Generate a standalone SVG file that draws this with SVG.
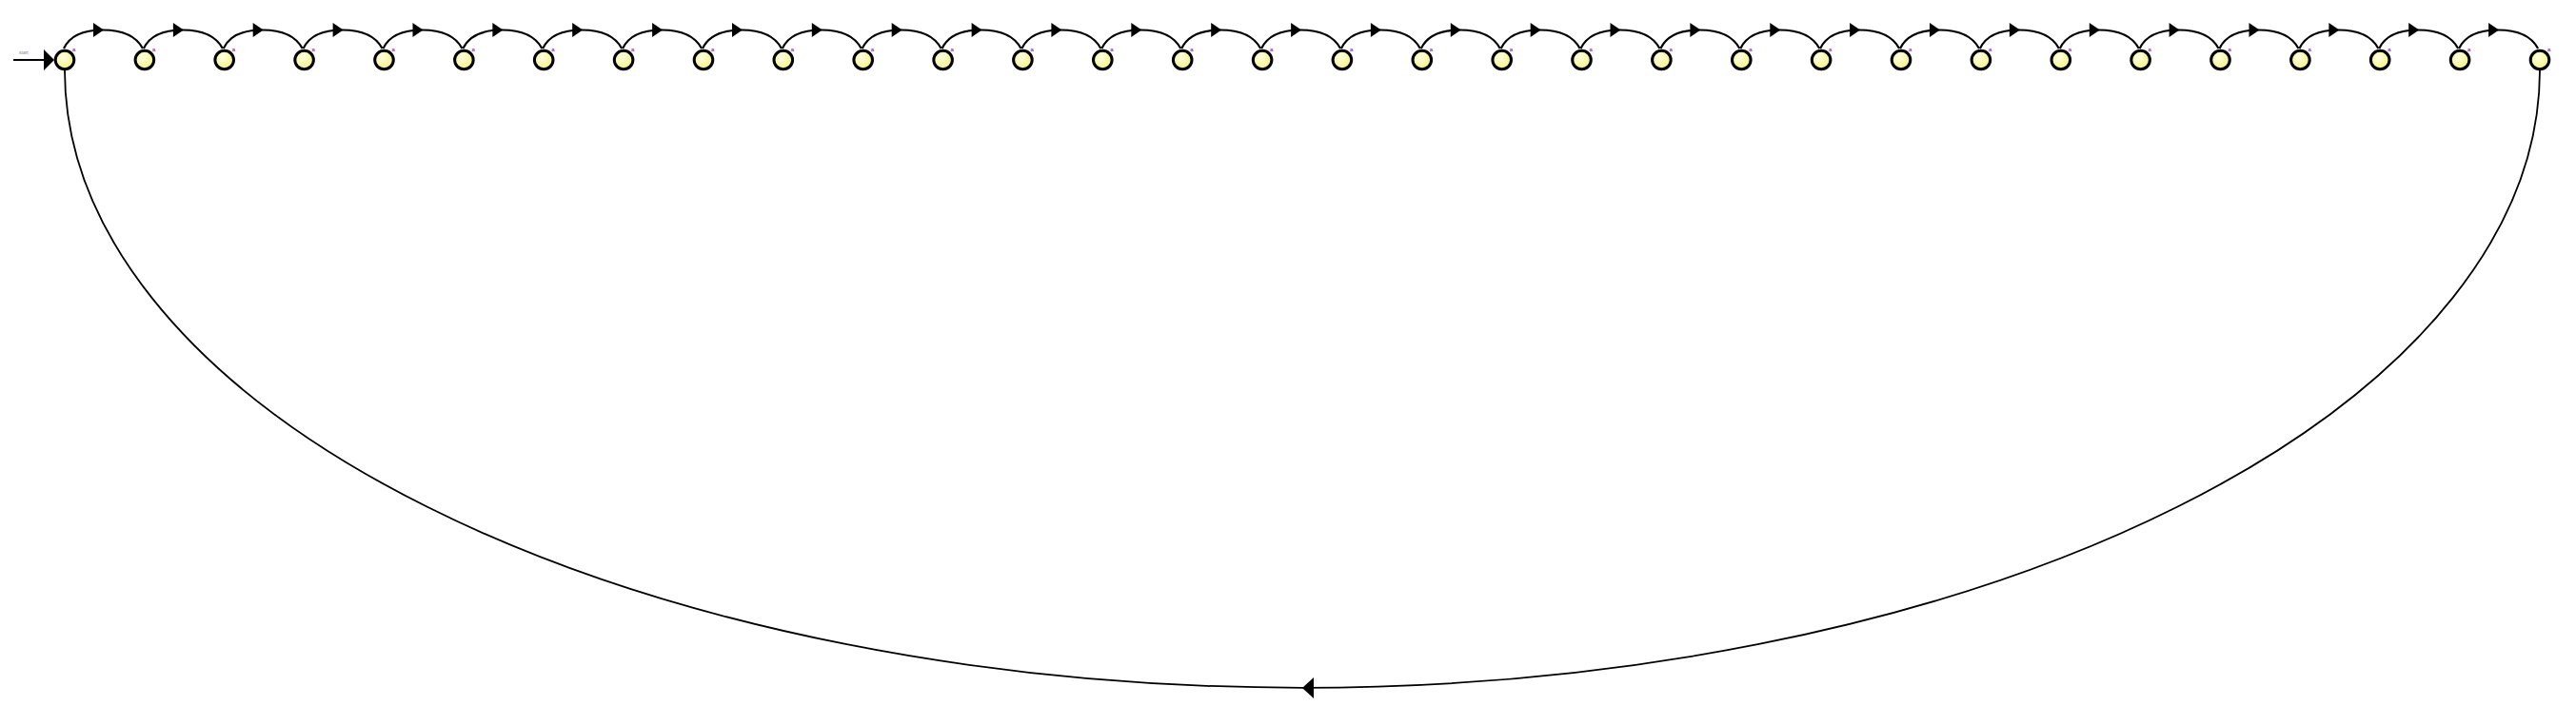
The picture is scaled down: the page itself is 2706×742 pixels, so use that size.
<svg xmlns="http://www.w3.org/2000/svg" xmlns:xlink="http://www.w3.org/1999/xlink" width="2706" height="742" viewBox="0 0 2706 742">
<style>
.st{fill:url(#g);stroke:#000;stroke-width:3}
.arc{fill:none;stroke:#000;stroke-width:2.2}
.loop{fill:none;stroke:#000;stroke-width:1.8}
.ah{fill:#000;stroke:none}
.lbl{font-family:"Liberation Sans",Arial,sans-serif;font-size:6px;font-weight:bold;fill:#a030c8}
.sl{font-family:"Liberation Sans",Arial,sans-serif;font-size:5px;fill:#9080a0}
</style>
<defs>
<radialGradient id="g" cx="0.4" cy="0.35" r="0.7">
<stop offset="0" stop-color="#ffffe6"/>
<stop offset="1" stop-color="#f2f27a"/>
</radialGradient>
<g id="a">
<path class="arc" d="M -1 -12 C 6 -27, 21 -31.5, 40 -31.5 C 59 -31.5, 74 -27, 82 -12"/>
<polygon class="ah" points="30,-39 41,-31.5 30,-24"/>
</g>
</defs>
<g id="connectors">
<line class="arc" x1="14" y1="63" x2="48" y2="63"/>
<polygon class="ah" points="46,52 57,63 46,74"/>
<text class="sl" x="20" y="57">start</text>
<use href="#a" x="68" y="63"/>
<use href="#a" x="151.9" y="63"/>
<use href="#a" x="235.7" y="63"/>
<use href="#a" x="319.6" y="63"/>
<use href="#a" x="403.5" y="63"/>
<use href="#a" x="487.4" y="63"/>
<use href="#a" x="571.2" y="63"/>
<use href="#a" x="655.1" y="63"/>
<use href="#a" x="739" y="63"/>
<use href="#a" x="822.8" y="63"/>
<use href="#a" x="906.7" y="63"/>
<use href="#a" x="990.6" y="63"/>
<use href="#a" x="1074.4" y="63"/>
<use href="#a" x="1158.3" y="63"/>
<use href="#a" x="1242.2" y="63"/>
<use href="#a" x="1326.1" y="63"/>
<use href="#a" x="1409.9" y="63"/>
<use href="#a" x="1493.8" y="63"/>
<use href="#a" x="1577.7" y="63"/>
<use href="#a" x="1661.5" y="63"/>
<use href="#a" x="1745.4" y="63"/>
<use href="#a" x="1829.3" y="63"/>
<use href="#a" x="1913.1" y="63"/>
<use href="#a" x="1997" y="63"/>
<use href="#a" x="2080.9" y="63"/>
<use href="#a" x="2164.8" y="63"/>
<use href="#a" x="2248.6" y="63"/>
<use href="#a" x="2332.5" y="63"/>
<use href="#a" x="2416.4" y="63"/>
<use href="#a" x="2500.2" y="63"/>
<use href="#a" x="2584.1" y="63"/>
<path class="loop" d="M 2668 74 A 1300 649 0 0 1 68 74"/>
<polygon class="ah" points="1380,712 1368,723 1380,734"/>
</g>
<g id="n0"><circle class="st" cx="68" cy="63" r="9.8"/><text class="lbl" x="76" y="54">a</text></g>
<g id="n1"><circle class="st" cx="151.9" cy="63" r="9.8"/><text class="lbl" x="159.9" y="54">a</text></g>
<g id="n2"><circle class="st" cx="235.7" cy="63" r="9.8"/><text class="lbl" x="243.7" y="54">a</text></g>
<g id="n3"><circle class="st" cx="319.6" cy="63" r="9.8"/><text class="lbl" x="327.6" y="54">a</text></g>
<g id="n4"><circle class="st" cx="403.5" cy="63" r="9.8"/><text class="lbl" x="411.5" y="54">a</text></g>
<g id="n5"><circle class="st" cx="487.4" cy="63" r="9.8"/><text class="lbl" x="495.4" y="54">a</text></g>
<g id="n6"><circle class="st" cx="571.2" cy="63" r="9.8"/><text class="lbl" x="579.2" y="54">a</text></g>
<g id="n7"><circle class="st" cx="655.1" cy="63" r="9.8"/><text class="lbl" x="663.1" y="54">a</text></g>
<g id="n8"><circle class="st" cx="739" cy="63" r="9.8"/><text class="lbl" x="747" y="54">a</text></g>
<g id="n9"><circle class="st" cx="822.8" cy="63" r="9.8"/><text class="lbl" x="830.8" y="54">a</text></g>
<g id="n10"><circle class="st" cx="906.7" cy="63" r="9.8"/><text class="lbl" x="914.7" y="54">a</text></g>
<g id="n11"><circle class="st" cx="990.6" cy="63" r="9.8"/><text class="lbl" x="998.6" y="54">a</text></g>
<g id="n12"><circle class="st" cx="1074.4" cy="63" r="9.8"/><text class="lbl" x="1082.4" y="54">a</text></g>
<g id="n13"><circle class="st" cx="1158.3" cy="63" r="9.8"/><text class="lbl" x="1166.3" y="54">a</text></g>
<g id="n14"><circle class="st" cx="1242.2" cy="63" r="9.8"/><text class="lbl" x="1250.2" y="54">a</text></g>
<g id="n15"><circle class="st" cx="1326.1" cy="63" r="9.8"/><text class="lbl" x="1334.1" y="54">a</text></g>
<g id="n16"><circle class="st" cx="1409.9" cy="63" r="9.8"/><text class="lbl" x="1417.9" y="54">a</text></g>
<g id="n17"><circle class="st" cx="1493.8" cy="63" r="9.8"/><text class="lbl" x="1501.8" y="54">a</text></g>
<g id="n18"><circle class="st" cx="1577.7" cy="63" r="9.8"/><text class="lbl" x="1585.7" y="54">a</text></g>
<g id="n19"><circle class="st" cx="1661.5" cy="63" r="9.8"/><text class="lbl" x="1669.5" y="54">a</text></g>
<g id="n20"><circle class="st" cx="1745.4" cy="63" r="9.8"/><text class="lbl" x="1753.4" y="54">a</text></g>
<g id="n21"><circle class="st" cx="1829.3" cy="63" r="9.8"/><text class="lbl" x="1837.3" y="54">a</text></g>
<g id="n22"><circle class="st" cx="1913.1" cy="63" r="9.8"/><text class="lbl" x="1921.1" y="54">a</text></g>
<g id="n23"><circle class="st" cx="1997" cy="63" r="9.8"/><text class="lbl" x="2005" y="54">a</text></g>
<g id="n24"><circle class="st" cx="2080.9" cy="63" r="9.8"/><text class="lbl" x="2088.9" y="54">a</text></g>
<g id="n25"><circle class="st" cx="2164.8" cy="63" r="9.8"/><text class="lbl" x="2172.8" y="54">a</text></g>
<g id="n26"><circle class="st" cx="2248.6" cy="63" r="9.8"/><text class="lbl" x="2256.6" y="54">a</text></g>
<g id="n27"><circle class="st" cx="2332.5" cy="63" r="9.8"/><text class="lbl" x="2340.5" y="54">a</text></g>
<g id="n28"><circle class="st" cx="2416.4" cy="63" r="9.8"/><text class="lbl" x="2424.4" y="54">a</text></g>
<g id="n29"><circle class="st" cx="2500.2" cy="63" r="9.8"/><text class="lbl" x="2508.2" y="54">a</text></g>
<g id="n30"><circle class="st" cx="2584.1" cy="63" r="9.8"/><text class="lbl" x="2592.1" y="54">a</text></g>
<g id="n31"><circle class="st" cx="2668" cy="63" r="9.8"/><text class="lbl" x="2676" y="54">a</text></g>
</svg>
